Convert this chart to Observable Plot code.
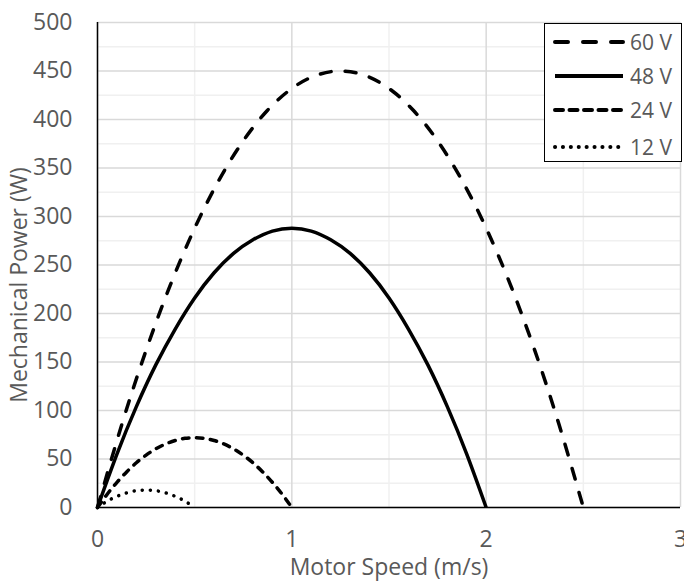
<!DOCTYPE html>
<html>
<head>
<meta charset="utf-8">
<script src="https://cdn.jsdelivr.net/npm/d3@7"></script>
<script src="https://cdn.jsdelivr.net/npm/@observablehq/plot@0.6"></script>
<style>
  html, body { margin: 0; padding: 0; background: #fff; }
  #wrap { position: relative; width: 684px; height: 584px; font-family: "Open Sans", sans-serif; overflow: hidden; }
  #legend { position: absolute; left: 544px; top: 23px; width: 138px; height: 139px; border: 1.5px solid #000; background: #fff; box-sizing: border-box; }
  .item { position: absolute; left: 0; height: 24px; display: flex; align-items: center; }
  .item span { font-size: 21px; color: #595959; margin-left: 5px; white-space: nowrap; }
</style>
</head>
<body>
<div id="wrap"></div>
<script>
const xTicks = [0, 1, 2, 3];
const yTicks = [0, 50, 100, 150, 200, 250, 300, 350, 400, 450, 500];
const xMinor = [0.5, 1.5, 2.5];
const yMinor = [25, 75, 125, 175, 225, 275, 325, 375, 425, 475];

const speed60 = [0, 0.125, 0.25, 0.375, 0.5, 0.625, 0.75, 0.875, 1.0, 1.125, 1.25, 1.375, 1.5, 1.625, 1.75, 1.875, 2.0, 2.125, 2.25, 2.375, 2.5];
const power60 = [0, 85.5, 162, 229.5, 288, 337.5, 378, 409.5, 432, 445.5, 450, 445.5, 432, 409.5, 378, 337.5, 288, 229.5, 162, 85.5, 0];

const speed48 = [0, 0.1, 0.2, 0.3, 0.4, 0.5, 0.6, 0.7, 0.8, 0.9, 1.0, 1.1, 1.2, 1.3, 1.4, 1.5, 1.6, 1.7, 1.8, 1.9, 2.0];
const power48 = [0, 55, 104, 147, 184, 216, 242, 262, 276, 285, 288, 285, 276, 262, 242, 216, 184, 147, 104, 55, 0];

const speed24 = [0, 0.05, 0.1, 0.15, 0.2, 0.25, 0.3, 0.35, 0.4, 0.45, 0.5, 0.55, 0.6, 0.65, 0.7, 0.75, 0.8, 0.85, 0.9, 0.95, 1.0];
const power24 = [0, 13.7, 25.9, 36.7, 46.1, 54, 60.5, 65.5, 69.1, 71.3, 72, 71.3, 69.1, 65.5, 60.5, 54, 46.1, 36.7, 25.9, 13.7, 0];

const speed12 = [0, 0.025, 0.05, 0.075, 0.1, 0.125, 0.15, 0.175, 0.2, 0.225, 0.25, 0.275, 0.3, 0.325, 0.35, 0.375, 0.4, 0.425, 0.45, 0.475, 0.5];
const power12 = [0, 3.4, 6.5, 9.2, 11.5, 13.5, 15.1, 16.4, 17.3, 17.8, 18, 17.8, 17.3, 16.4, 15.1, 13.5, 11.5, 9.2, 6.5, 3.4, 0];

const seriesNames = ["60 V", "48 V", "24 V", "12 V"];
const seriesStyle = {
  "60 V": {dash: "11,14", legendDash: "13,15", width: 3.5, cap: "round"},
  "48 V": {dash: null, legendDash: null, width: 3.5, cap: "butt"},
  "24 V": {dash: "6.5,7.5", legendDash: "8,6.5", width: 3.5, cap: "round"},
  "12 V": {dash: "0.1,8", legendDash: "0.1,7.8", width: 3.5, cap: "round"}
};

const toRows = (xs, ys, name) => xs.map((x, i) => ({speed: x, power: ys[i], series: name}));
const sets = {
  "60 V": toRows(speed60, power60, "60 V"),
  "48 V": toRows(speed48, power48, "48 V"),
  "24 V": toRows(speed24, power24, "24 V"),
  "12 V": toRows(speed12, power12, "12 V")
};

const chart = Plot.plot({
  width: 684,
  height: 584,
  marginLeft: 97,
  marginRight: 4,
  marginTop: 22,
  marginBottom: 77,
  style: {fontFamily: "Open Sans, sans-serif", fontSize: "23px", color: "#595959", background: "#fff", overflow: "visible"},
  x: {domain: [0, 3], label: null},
  y: {domain: [0, 500], label: null},
  marks: [
    Plot.ruleX(xMinor, {stroke: "#f0f0f0", strokeWidth: 1.5}),
    Plot.ruleY(yMinor, {stroke: "#f0f0f0", strokeWidth: 1.5}),
    Plot.ruleX(xTicks, {stroke: "#d9d9d9", strokeWidth: 1.5}),
    Plot.ruleY(yTicks, {stroke: "#d9d9d9", strokeWidth: 1.5}),
    Plot.axisX({ticks: xTicks, tickFormat: d => String(d), tickSize: 0, tickPadding: 23, label: "Motor Speed (m/s)", labelAnchor: "center", labelOffset: 67, labelArrow: "none", fontSize: 23}),
    Plot.axisY({ticks: yTicks, tickFormat: d => String(d), tickSize: 0, tickPadding: 25, label: "Mechanical Power (W)", labelAnchor: "center", labelOffset: 87, labelArrow: "none", fontSize: 23}),
    ...seriesNames.map(n => Plot.line(sets[n], {
      x: "speed", y: "power", curve: "natural",
      stroke: "#000", strokeWidth: seriesStyle[n].width,
      strokeDasharray: seriesStyle[n].dash, strokeLinecap: seriesStyle[n].cap
    })),
    Plot.ruleX([0], {stroke: "#000", strokeWidth: 1.5}),
    Plot.ruleY([0], {stroke: "#000", strokeWidth: 1.5})
  ]
});

const wrap = document.getElementById("wrap");
wrap.appendChild(chart);

// shift y-axis title slightly downward like the reference
d3.select(chart).selectAll('g[aria-label="y-axis label"] text').each(function() {
  const t = d3.select(this);
  const tr = t.attr("transform") || "";
  t.attr("transform", "translate(0,20) " + tr);
});

const legend = document.createElement("div");
legend.id = "legend";
const rowTops = [6, 40, 74, 111];
seriesNames.forEach((n, i) => {
  const s = seriesStyle[n];
  const item = document.createElement("div");
  item.className = "item";
  item.style.top = rowTops[i] + "px";
  item.innerHTML = `<svg width="80" height="24"><line x1="10" x2="78" y1="12" y2="12" stroke="#000" stroke-width="4" ${s.legendDash ? `stroke-dasharray="${s.legendDash}"` : ""} stroke-linecap="${s.cap}"/></svg><span>${n}</span>`;
  legend.appendChild(item);
});
wrap.appendChild(legend);
</script>
</body>
</html>
